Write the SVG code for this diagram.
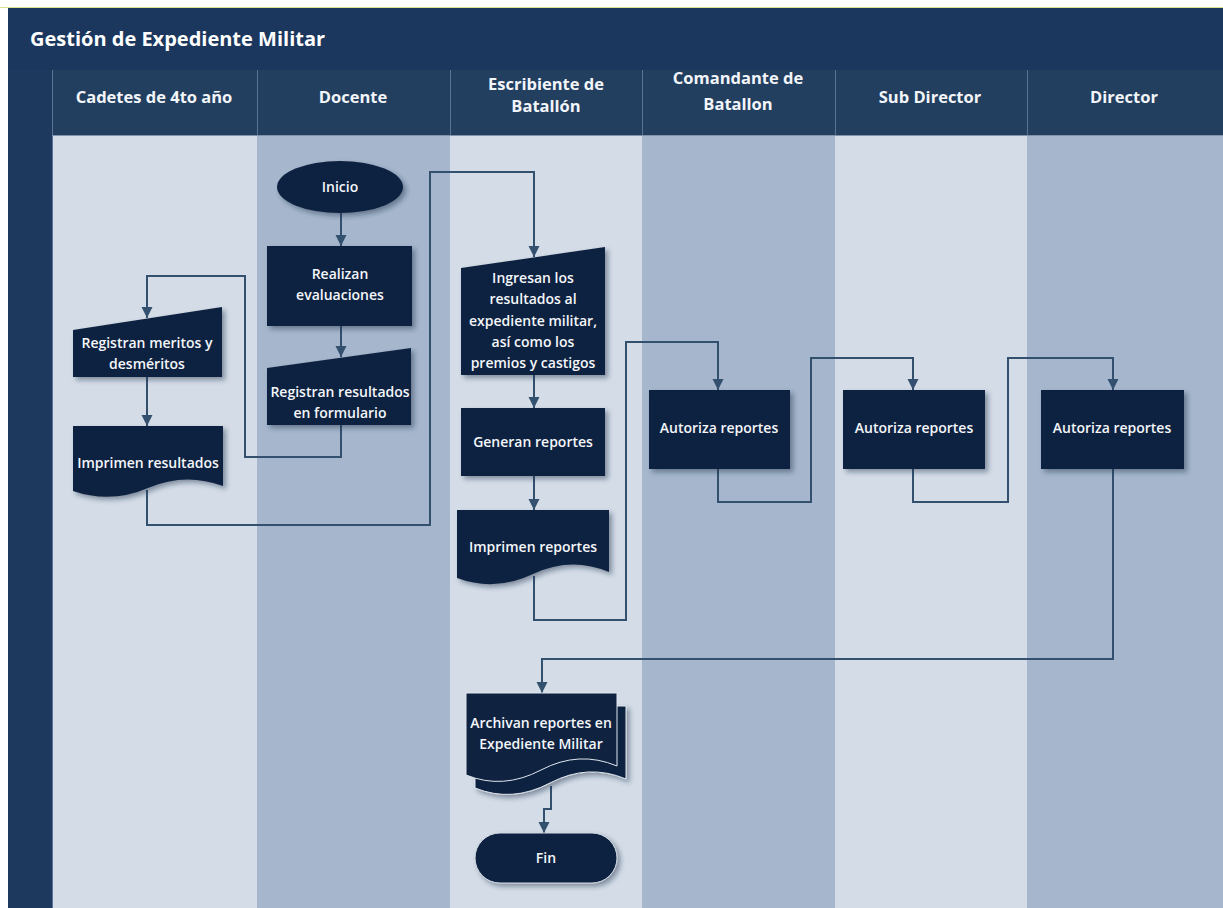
<svg xmlns="http://www.w3.org/2000/svg" width="1223" height="908" viewBox="0 0 1223 908">
<defs>
<style>
.title{font-family:"Open Sans","Noto Sans",sans-serif;font-weight:700;font-size:20px;fill:#ffffff}
.hdr{font-family:"Open Sans","Noto Sans",sans-serif;font-weight:700;font-size:16.5px;fill:#f2f5f9;text-anchor:middle}
.nt{font-family:"Open Sans","Noto Sans",sans-serif;font-weight:600;font-size:14px;fill:#f4f6fa;text-anchor:middle}
.node{fill:#0f2341}
.lt{fill:#d4dce7}
.dk{fill:#a6b6cc}
.conn{fill:none;stroke:#34506f;stroke-width:2}
.sep{stroke:#5a7392;stroke-width:1}
</style>
<marker id="ah" markerUnits="userSpaceOnUse" markerWidth="12" markerHeight="12" refX="11" refY="6" orient="auto">
<path d="M0,0.5 L11,6 L0,11.5 z" fill="#34506f"/>
</marker>
<filter id="sh" x="-10%" y="-10%" width="130%" height="130%">
<feDropShadow dx="3" dy="3" stdDeviation="2.5" flood-color="#1a2b44" flood-opacity="0.45"/>
</filter>
</defs>

<rect width="1223" height="908" fill="#ffffff"/>
<line x1="0" y1="7.5" x2="1223" y2="7.5" stroke="#d9e08a" stroke-width="1"/>
<!-- title band -->
<rect x="8" y="8" width="1215" height="62" fill="#1b375e"/>
<text class="title" x="30" y="46">Gestión de Expediente Militar</text>
<!-- left column -->
<rect x="8" y="70" width="44" height="838" fill="#1d3a5e"/>
<!-- lane header row -->
<rect x="52" y="70" width="1171" height="65" fill="#233f60"/>
<!-- lanes -->
<rect class="lt" x="52" y="135" width="205" height="773"/>
<rect class="dk" x="257" y="135" width="193" height="773"/>
<rect class="lt" x="450" y="135" width="192" height="773"/>
<rect class="dk" x="642" y="135" width="193" height="773"/>
<rect class="lt" x="835" y="135" width="192" height="773"/>
<rect class="dk" x="1027" y="135" width="196" height="773"/>
<line class="sep" x1="52.5" y1="70" x2="52.5" y2="908"/>
<line class="sep" x1="257.5" y1="70" x2="257.5" y2="135"/>
<line class="sep" x1="450.5" y1="70" x2="450.5" y2="135"/>
<line class="sep" x1="642.5" y1="70" x2="642.5" y2="135"/>
<line class="sep" x1="835.5" y1="70" x2="835.5" y2="135"/>
<line class="sep" x1="1027.5" y1="70" x2="1027.5" y2="135"/>
<line x1="52" y1="135.5" x2="1223" y2="135.5" stroke="#7f93ad" stroke-width="1"/>

<g id="lane-headers">
<text class="hdr" x="154" y="103">Cadetes de 4to año</text>
<text class="hdr" x="353" y="103">Docente</text>
<text class="hdr" x="546" y="90">Escribiente de</text>
<text class="hdr" x="546" y="112">Batallón</text>
<text class="hdr" x="738" y="84">Comandante de</text>
<text class="hdr" x="738" y="110">Batallon</text>
<text class="hdr" x="930" y="103">Sub Director</text>
<text class="hdr" x="1124" y="103">Director</text>
</g>

<g id="connectors">
<path class="conn" d="M341,213 V246" marker-end="url(#ah)"/>
<path class="conn" d="M341,326 V357" marker-end="url(#ah)"/>
<path class="conn" d="M341,425 V457 H245 V276 H147 V318" marker-end="url(#ah)"/>
<path class="conn" d="M147,377 V426" marker-end="url(#ah)"/>
<path class="conn" d="M147,490 V525 H430 V172 H534 V257" marker-end="url(#ah)"/>
<path class="conn" d="M534,375 V408" marker-end="url(#ah)"/>
<path class="conn" d="M534,476 V510" marker-end="url(#ah)"/>
<path class="conn" d="M534,576 V620 H626 V342 H718 V390" marker-end="url(#ah)"/>
<path class="conn" d="M718,469 V502 H811 V358 H913 V390" marker-end="url(#ah)"/>
<path class="conn" d="M913,469 V502 H1008 V358 H1113 V390" marker-end="url(#ah)"/>
<path class="conn" d="M1113,469 V659 H542 V693" marker-end="url(#ah)"/>
<path class="conn" d="M551,786 V809 H544 V833" marker-end="url(#ah)"/>
</g>

<g id="inicio">
<ellipse class="node" cx="340" cy="187" rx="63" ry="26" filter="url(#sh)"/>
<text class="nt" x="340" y="192">Inicio</text>
</g>
<g id="realizan">
<rect class="node" x="267" y="246" width="145" height="80" filter="url(#sh)"/>
<text class="nt" x="340" y="279">Realizan</text>
<text class="nt" x="340" y="300">evaluaciones</text>
</g>
<g id="registran-resultados">
<path class="node" d="M267,368 L411,348 V425 H267 Z" filter="url(#sh)"/>
<text class="nt" x="340" y="397">Registran resultados</text>
<text class="nt" x="340" y="418">en formulario</text>
</g>
<g id="registran-meritos">
<path class="node" d="M73,330 L222,307 V377 H73 Z" filter="url(#sh)"/>
<text class="nt" x="147" y="348">Registran meritos y</text>
<text class="nt" x="147" y="369">desméritos</text>
</g>
<g id="imprimen-resultados">
<path class="node" d="M73,426 H223 V486 Q185,472 148,488 T73,491 Z" filter="url(#sh)"/>
<text class="nt" x="148" y="468">Imprimen resultados</text>
</g>
<g id="ingresan">
<path class="node" d="M461,268 L605,247 V375 H461 Z" filter="url(#sh)"/>
<text class="nt" x="533" y="283">Ingresan los</text>
<text class="nt" x="533" y="304">resultados al</text>
<text class="nt" x="533" y="326">expediente militar,</text>
<text class="nt" x="533" y="347">así como los</text>
<text class="nt" x="533" y="368">premios y castigos</text>
</g>
<g id="generan">
<rect class="node" x="461" y="408" width="144" height="68" filter="url(#sh)"/>
<text class="nt" x="533" y="447">Generan reportes</text>
</g>
<g id="imprimen-reportes">
<path class="node" d="M457,510 H609 V572 Q571,556 533,574 T457,578 Z" filter="url(#sh)"/>
<text class="nt" x="533" y="552">Imprimen reportes</text>
</g>
<g id="autoriza-1">
<rect class="node" x="649" y="390" width="141" height="79" filter="url(#sh)"/>
<text class="nt" x="719" y="433">Autoriza reportes</text>
</g>
<g id="autoriza-2">
<rect class="node" x="843" y="390" width="142" height="79" filter="url(#sh)"/>
<text class="nt" x="914" y="433">Autoriza reportes</text>
</g>
<g id="autoriza-3">
<rect class="node" x="1041" y="390" width="143" height="79" filter="url(#sh)"/>
<text class="nt" x="1112" y="433">Autoriza reportes</text>
</g>
<g id="archivan">
<path class="node" d="M475,706 H626 V779 Q588,763 550,783 T475,788 Z" stroke="#dfe6ee" stroke-width="1" filter="url(#sh)"/>
<path class="node" d="M466,693 H617 V766 Q579,750 541,770 T466,775 Z" stroke="#dfe6ee" stroke-width="1"/>
<text class="nt" x="541" y="728">Archivan reportes en</text>
<text class="nt" x="541" y="749">Expediente Militar</text>
</g>
<g id="fin">
<rect class="node" x="475" y="833" width="142" height="50" rx="25" stroke="#cfd8e3" stroke-width="1" filter="url(#sh)"/>
<text class="nt" x="546" y="863">Fin</text>
</g>
</svg>
